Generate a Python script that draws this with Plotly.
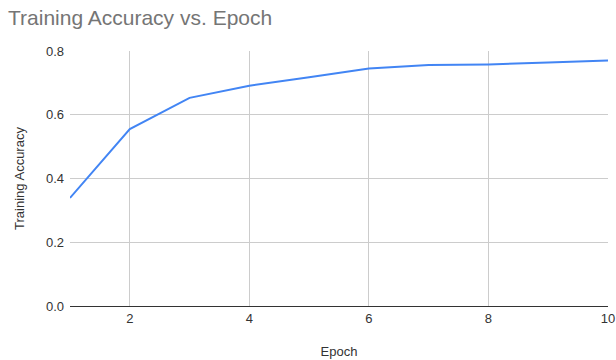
import plotly.graph_objects as go

epochs = [1, 2, 3, 4, 5, 6, 7, 8, 9, 10]
accuracy = [0.339, 0.555, 0.653, 0.691, 0.718, 0.745, 0.756, 0.758, 0.764, 0.770]
x_ticks = [2, 4, 6, 8, 10]
y_ticks = [0.0, 0.2, 0.4, 0.6, 0.8]

fig = go.Figure(go.Scatter(x=epochs, y=accuracy, mode="lines",
                           line=dict(color="#4285F4", width=2)))
font = "Liberation Sans, Arial, sans-serif"
fig.update_layout(
    width=616, height=360,
    margin=dict(l=70, r=8, t=51, b=54, autoexpand=False),
    paper_bgcolor="white", plot_bgcolor="white",
    showlegend=False,
    font=dict(family=font, size=13, color="#333333"),
    title=dict(text="Training Accuracy vs. Epoch", x=0.013, xanchor="left", xref="container",
               y=0.95, yanchor="middle", font=dict(size=21, color="#757575", family=font)),
)
fig.update_xaxes(range=[1, 10], tickvals=x_ticks, ticktext=[str(v) for v in x_ticks],
                 showgrid=True, gridcolor="#cccccc", gridwidth=1, zeroline=False,
                 showline=False, ticks="", ticklabelstandoff=3, automargin=False,
                 tickfont=dict(size=13, color="#333333"),
                 title=dict(text="Epoch", font=dict(size=13, color="#333333"), standoff=21))
fig.update_yaxes(range=[0, 0.8], tickvals=y_ticks, ticktext=[f"{v:.1f}" for v in y_ticks],
                 showgrid=True, gridcolor="#cccccc", gridwidth=1, zeroline=True,
                 zerolinecolor="#333333", zerolinewidth=1, showline=False, ticks="",
                 ticklabelstandoff=5, automargin=False,
                 tickfont=dict(size=13, color="#333333"),
                 title=dict(text="Training Accuracy", font=dict(size=13, color="#333333"), standoff=18))
fig.write_html("out.html", config={"displayModeBar": False},
               post_script="document.body.style.margin='0';")
